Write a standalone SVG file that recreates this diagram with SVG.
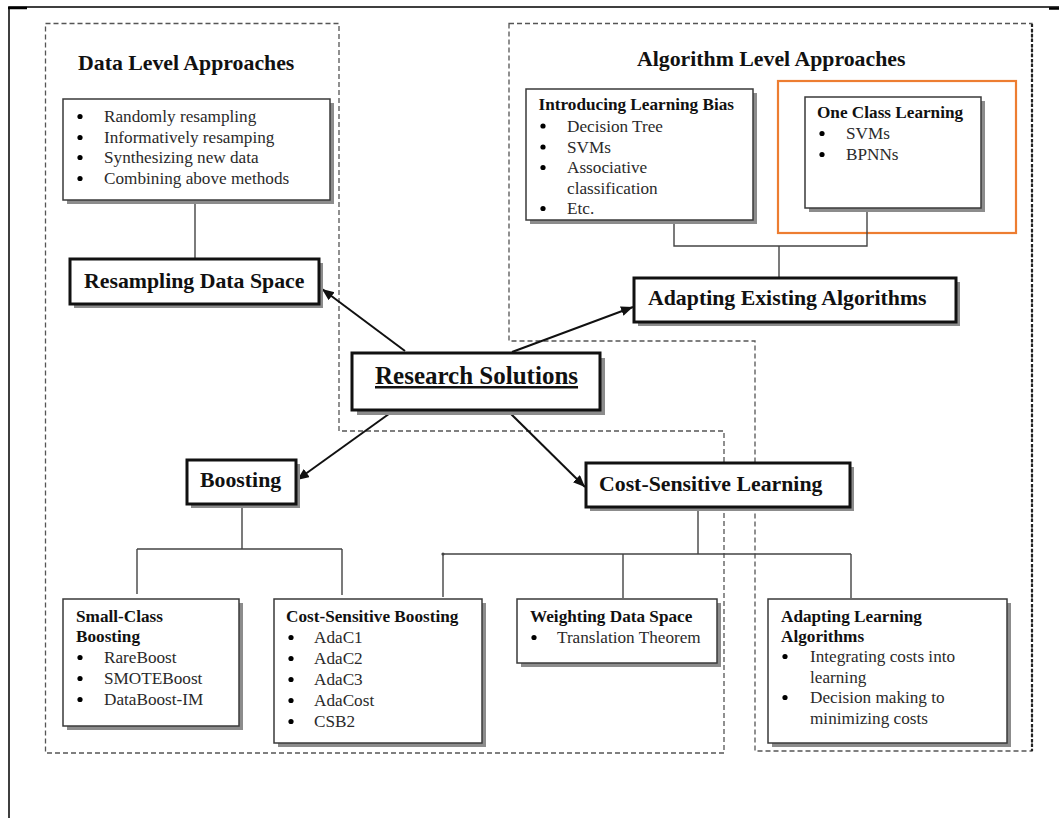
<svg xmlns="http://www.w3.org/2000/svg" width="1059" height="818" viewBox="0 0 1059 818">
<defs>
<style>
text{font-family:"Liberation Serif","Times New Roman",serif;fill:#111}
.t22{font-size:21.8px;font-weight:bold}
.t25{font-size:25px;font-weight:bold}
.h{font-size:17.2px;font-weight:bold}
.i{font-size:17.2px;fill:#2a2a2a}
.box{fill:#fff;stroke:#3a3a3a;stroke-width:1.5}
.mbox{fill:#fff;stroke:#111;stroke-width:3}
.sh{fill:#8c8c8c}
.dash{fill:none;stroke:#555;stroke-width:1.3;stroke-dasharray:5 3}
.tree{fill:none;stroke:#444;stroke-width:1.4}
.arr{fill:none;stroke:#111;stroke-width:2;marker-end:url(#ah)}
</style>
<marker id="ah" markerUnits="userSpaceOnUse" markerWidth="14" markerHeight="12" refX="12" refY="5" orient="auto">
<path d="M0,0 L12,5 L0,10 Z" fill="#111"/>
</marker>
<circle id="bl" r="2.6" fill="#000"/>
</defs>
<rect width="1059" height="818" fill="#fff"/>
<g id="frame">
<path d="M9,818 V7 H1059" fill="none" stroke="#000" stroke-width="1.5"/>
<path d="M8,8 H27 M1049,8.5 H1059" fill="none" stroke="#000" stroke-width="2.5"/>
</g>
<g id="regions">
<path class="dash" d="M45.5,23.5 H339 V431 H724 V753 H45.5 Z"/>
<path class="dash" d="M509,23.5 H1032 V751 H755 V341 H509 Z"/>
<path d="M1032,24 V751" fill="none" stroke="#222" stroke-width="2.2" stroke-dasharray="3 2"/>
<rect x="778" y="81" width="238" height="152" fill="none" stroke="#ED7D31" stroke-width="2.2"/>
</g>
<g id="titles">
<text class="t22" x="78" y="70">Data Level Approaches</text>
<text class="t22" x="637" y="66">Algorithm Level Approaches</text>
</g>
<g id="connectors">
<path class="tree" d="M195,200 V259"/>
<path class="tree" d="M674,220 V246 H867 V208 M779,246 V278"/>
<path class="tree" d="M242,504 V549 M137,549 H342 M137,549 V594 M342,549 V595"/>
<path class="tree" d="M698,507 V554 M443,554 H851 M443,554 V597 M623,554 V598 M851,554 V598"/>
<circle cx="443" cy="554" r="1.6" fill="#444"/>
<path class="arr" d="M405,351 L322,289"/>
<path class="arr" d="M512,352 L633,307"/>
<path class="arr" d="M393,411 L297,480"/>
<path class="arr" d="M508,411 L585,487"/>
</g>
<g id="data-methods">
<rect class="sh" x="67" y="103" width="267" height="101"/>
<rect class="box" x="63" y="99" width="267" height="101"/>
<use href="#bl" x="80" y="116.5"/><text class="i" x="104" y="122">Randomly resampling</text>
<use href="#bl" x="80" y="137.5"/><text class="i" x="104" y="143">Informatively resamping</text>
<use href="#bl" x="80" y="157.5"/><text class="i" x="104" y="163">Synthesizing new data</text>
<use href="#bl" x="80" y="178.5"/><text class="i" x="104" y="184">Combining above methods</text>
</g>
<g id="resampling">
<rect class="sh" x="74" y="263" width="249" height="45"/>
<rect class="mbox" x="70" y="259" width="249" height="45"/>
<text class="t22" x="84" y="288">Resampling Data Space</text>
</g>
<g id="learning-bias">
<rect class="sh" x="530" y="93" width="227" height="131"/>
<rect class="box" x="526" y="89" width="227" height="131"/>
<text class="h" x="538.5" y="110">Introducing Learning Bias</text>
<use href="#bl" x="543" y="126"/><text class="i" x="567" y="131.5">Decision Tree</text>
<use href="#bl" x="543" y="147"/><text class="i" x="567" y="152.5">SVMs</text>
<use href="#bl" x="543" y="167.5"/><text class="i" x="567" y="173">Associative</text>
<text class="i" x="567" y="193.5">classification</text>
<use href="#bl" x="543" y="208.5"/><text class="i" x="567" y="214">Etc.</text>
</g>
<g id="one-class">
<rect class="sh" x="809" y="101" width="176" height="111"/>
<rect class="box" x="805" y="97" width="176" height="111"/>
<text class="h" x="817" y="118">One Class Learning</text>
<use href="#bl" x="822" y="133.5"/><text class="i" x="846" y="139">SVMs</text>
<use href="#bl" x="822" y="154.5"/><text class="i" x="846" y="160">BPNNs</text>
</g>
<g id="adapting-existing">
<rect class="sh" x="638" y="282" width="322" height="44"/>
<rect class="mbox" x="634" y="278" width="322" height="44"/>
<text class="t22" x="648" y="305">Adapting Existing Algorithms</text>
</g>
<g id="research-solutions">
<rect class="sh" x="357" y="358" width="248" height="57"/>
<rect class="mbox" x="352" y="353" width="248" height="57" stroke-width="4"/>
<text class="t25" x="375" y="384" text-decoration="underline">Research Solutions</text>
</g>
<g id="boosting">
<rect class="sh" x="191" y="464" width="109" height="44"/>
<rect class="mbox" x="187" y="460" width="109" height="44"/>
<text class="t22" x="200" y="487">Boosting</text>
</g>
<g id="cost-sensitive-learning">
<rect class="sh" x="590" y="467" width="264" height="44"/>
<rect class="mbox" x="586" y="463" width="264" height="44"/>
<text class="t22" x="599" y="491">Cost-Sensitive Learning</text>
</g>
<g id="small-class">
<rect class="sh" x="67" y="603" width="176" height="127"/>
<rect class="box" x="63" y="599" width="176" height="127"/>
<text class="h" x="76" y="622">Small-Class</text>
<text class="h" x="76" y="642">Boosting</text>
<use href="#bl" x="80" y="657.5"/><text class="i" x="104" y="663">RareBoost</text>
<use href="#bl" x="80" y="678.5"/><text class="i" x="104" y="684">SMOTEBoost</text>
<use href="#bl" x="80" y="699.5"/><text class="i" x="104" y="705">DataBoost-IM</text>
</g>
<g id="cost-sensitive-boosting">
<rect class="sh" x="278" y="603" width="208" height="144"/>
<rect class="box" x="274" y="599" width="208" height="144"/>
<text class="h" x="286" y="622">Cost-Sensitive Boosting</text>
<use href="#bl" x="291" y="637.5"/><text class="i" x="314" y="643">AdaC1</text>
<use href="#bl" x="291" y="658.5"/><text class="i" x="314" y="664">AdaC2</text>
<use href="#bl" x="291" y="679.5"/><text class="i" x="314" y="685">AdaC3</text>
<use href="#bl" x="291" y="700.5"/><text class="i" x="314" y="706">AdaCost</text>
<use href="#bl" x="291" y="721.5"/><text class="i" x="314" y="727">CSB2</text>
</g>
<g id="weighting">
<rect class="sh" x="521" y="603" width="200" height="64"/>
<rect class="box" x="517" y="599" width="200" height="64"/>
<text class="h" x="530" y="622">Weighting Data Space</text>
<use href="#bl" x="534" y="637.5"/><text class="i" x="557" y="643">Translation Theorem</text>
</g>
<g id="adapting-learning">
<rect class="sh" x="772" y="603" width="239" height="144"/>
<rect class="box" x="768" y="599" width="239" height="144"/>
<text class="h" x="781" y="622">Adapting Learning</text>
<text class="h" x="781" y="642">Algorithms</text>
<use href="#bl" x="785" y="656.5"/><text class="i" x="810" y="662">Integrating costs into</text>
<text class="i" x="810" y="683">learning</text>
<use href="#bl" x="785" y="697.5"/><text class="i" x="810" y="703">Decision making to</text>
<text class="i" x="810" y="724">minimizing costs</text>
</g>
</svg>
